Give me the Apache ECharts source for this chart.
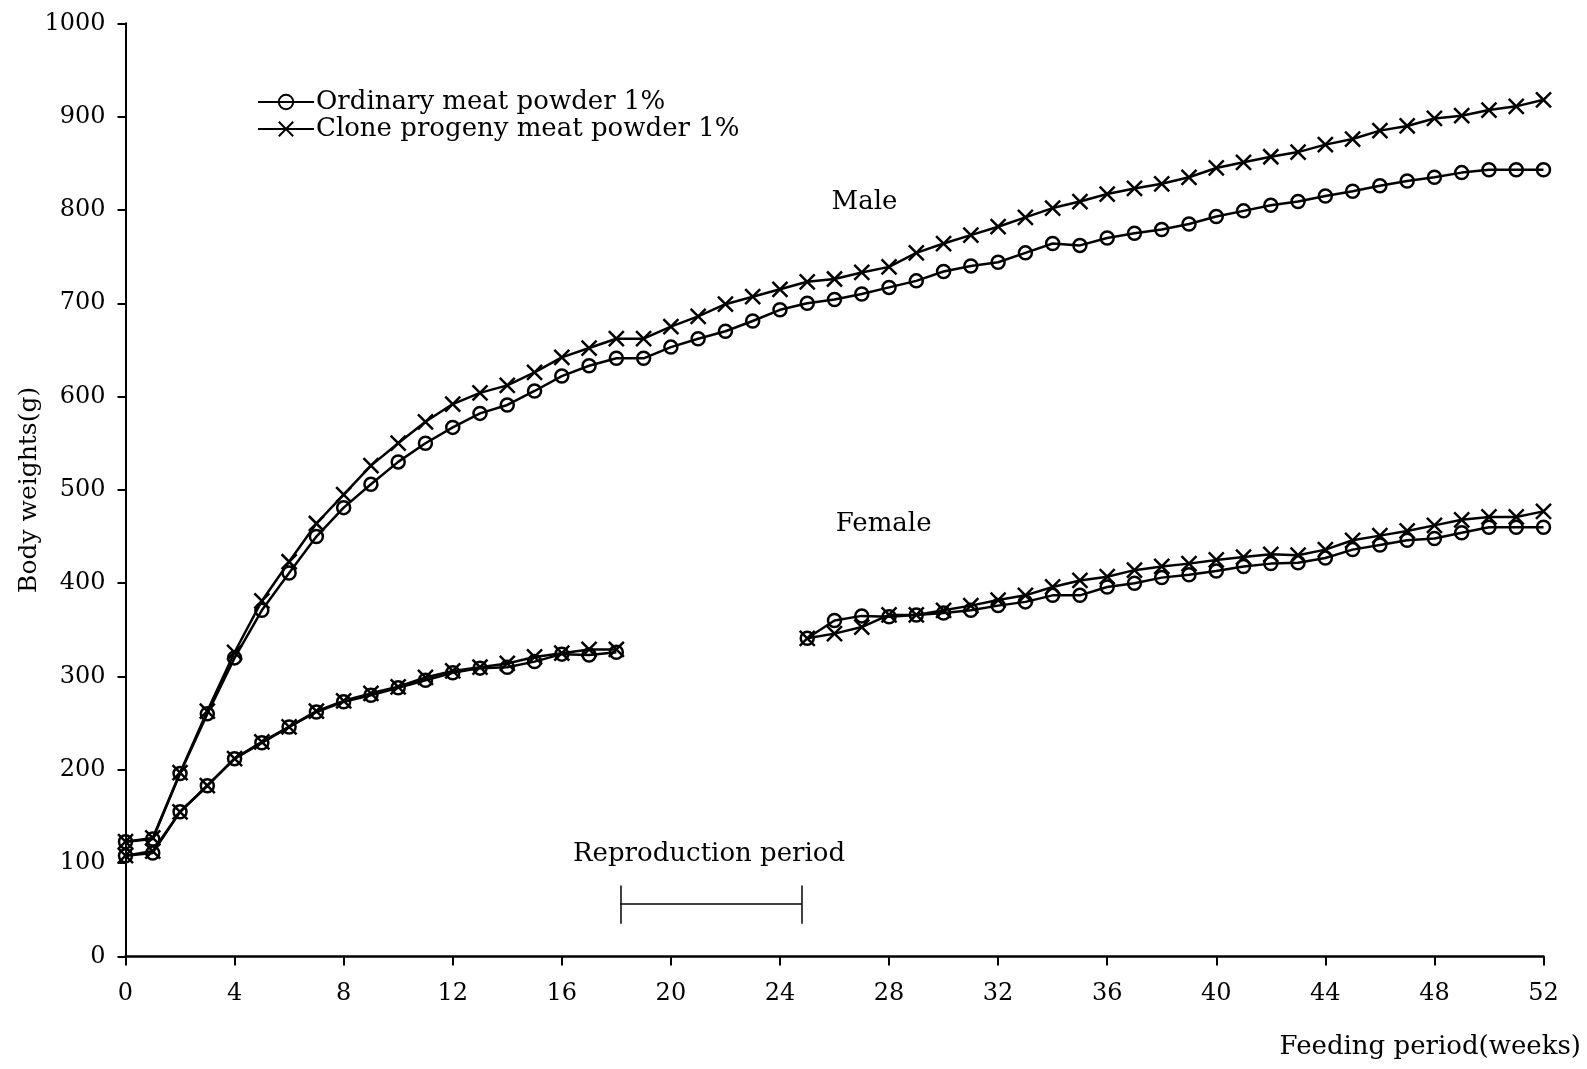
<!DOCTYPE html>
<html>
<head>
<meta charset="utf-8">
<script src="https://cdn.jsdelivr.net/npm/echarts@6/dist/echarts.min.js"></script>
<style>
html,body{margin:0;padding:0;background:#fff;}
#chart{width:1587px;height:1069px;}
</style>
</head>
<body>
<div id="chart"></div>
<script>
const weeks = Array.from({length: 53}, (_, i) => i);
const maleOrdinary = [123,126,196,260,320,371,411,450,481,506,530,550,567,582,591,606,622,633,641,641,653,662,670,681,693,700,704,710,717,724,734,740,744,754,764,762,770,775,779,785,793,799,805,809,815,820,826,831,835,840,843,843,843];
const maleClone = [123,127,197,263,326,381,423,464,495,526,550,573,592,604,612,626,642,652,662,662,675,686,699,707,715,723,726,733,739,754,764,773,782,792,802,809,817,823,828,835,845,851,857,862,870,876,885,890,898,901,907,911,918];
const femaleOrdinary = [108,111,155,183,212,229,246,262,273,280,288,296,304,309,310,316,324,323,326,null,null,null,null,null,null,341,360,365,364,366,368,371,376,380,387,387,396,400,406,409,413,418,421,422,427,436,441,446,448,454,460,460,460];
const femaleClone = [108,113,155,183,212,230,246,263,274,282,289,299,306,310,314,321,325,329,329,null,null,null,null,null,null,341,346,353,366,366,371,376,382,387,396,403,407,414,418,421,425,428,431,430,436,446,451,456,462,468,471,471,477];
const seriesNames = ['Ordinary meat powder 1%', 'Clone progeny meat powder 1%'];
const xTicks = {min: 0, max: 52, interval: 4};
const yTicks = {min: 0, max: 1000, interval: 100};
const annotations = [
  {name: 'Male', x: 27.1, y: 808},
  {name: 'Female', x: 27.8, y: 463},
  {name: 'Reproduction period', x: 21.4, y: 110}
];
const reproPeriod = {start: 18.15, end: 24.8, y: 56, top: 76, bottom: 35};

const toPairs = arr => weeks.map(w => [w, arr[w] == null ? '-' : arr[w]]);
const FONT = 'DejaVu Serif';
const XPATH = 'path://M0,0L10,10M10,0L0,10';

function makeSeries(name, data, isClone) {
  return {
    name: name,
    type: 'line',
    data: toPairs(data),
    connectNulls: false,
    symbol: isClone ? XPATH : 'circle',
    symbolSize: isClone ? 15 : 13,
    showAllSymbol: true,
    lineStyle: {color: '#000', width: 2.5},
    itemStyle: {color: 'rgba(0,0,0,0)', borderColor: '#000', borderWidth: 2.5},
    emphasis: {disabled: true},
    animation: false,
    z: 3
  };
}

const chart = echarts.init(document.getElementById('chart'), null, {renderer: 'canvas'});
chart.setOption({
  backgroundColor: '#fff',
  animation: false,
  grid: {left: 125.5, right: 43.5, top: 23.3, bottom: 112.5, containLabel: false},
  legend: {
    data: seriesNames,
    orient: 'vertical',
    left: 252,
    top: 84,
    itemWidth: 56,
    itemHeight: 18,
    itemGap: 1,
    textStyle: {fontFamily: FONT, fontSize: 26, color: '#000', padding: [0, 0, 0, -3]}
  },
  xAxis: {
    type: 'value',
    min: xTicks.min, max: xTicks.max, interval: xTicks.interval,
    splitLine: {show: false},
    axisLine: {onZero: false, lineStyle: {color: '#000', width: 2.5}},
    axisTick: {show: true, length: 9, lineStyle: {color: '#000', width: 2}},
    axisLabel: {color: '#000', fontFamily: FONT, fontSize: 24, margin: 25}
  },
  yAxis: {
    type: 'value',
    min: yTicks.min, max: yTicks.max, interval: yTicks.interval,
    name: 'Body weights(g)',
    nameLocation: 'middle',
    nameGap: 84,
    nameMoveOverlap: false,
    nameTextStyle: {color: '#000', fontFamily: FONT, fontSize: 25},
    splitLine: {show: false},
    axisLine: {show: true, lineStyle: {color: '#000', width: 2}},
    axisTick: {show: true, length: 8, lineStyle: {color: '#000', width: 2}},
    axisLabel: {color: '#000', fontFamily: FONT, fontSize: 24, margin: 20, formatter: v => String(v)}
  },
  graphic: [{
    type: 'text',
    right: 6,
    top: 1034,
    style: {text: 'Feeding period(weeks)', font: '26px "DejaVu Serif"', fill: '#000'}
  }],
  series: [
    makeSeries(seriesNames[0], maleOrdinary, false),
    makeSeries(seriesNames[1], maleClone, true),
    makeSeries(seriesNames[0], femaleOrdinary, false),
    makeSeries(seriesNames[1], femaleClone, true),
    {
      name: 'annotations',
      type: 'scatter',
      symbolSize: 0,
      itemStyle: {opacity: 1},
      data: annotations.map(a => ({name: a.name, value: [a.x, a.y]})),
      label: {show: true, position: 'inside', formatter: p => p.name, color: '#000', opacity: 1, fontFamily: FONT, fontSize: 26},
      silent: true,
      z: 4
    },
    {
      name: 'repro',
      type: 'line',
      data: [],
      silent: true,
      markLine: {
        symbol: 'none',
        silent: true,
        label: {show: false},
        lineStyle: {color: '#000', width: 1.5, type: 'solid'},
        data: [
          [{coord: [reproPeriod.start, reproPeriod.y]}, {coord: [reproPeriod.end, reproPeriod.y]}],
          [{coord: [reproPeriod.start, reproPeriod.top]}, {coord: [reproPeriod.start, reproPeriod.bottom]}],
          [{coord: [reproPeriod.end, reproPeriod.top]}, {coord: [reproPeriod.end, reproPeriod.bottom]}]
        ]
      }
    }
  ]
});
</script>
</body>
</html>
